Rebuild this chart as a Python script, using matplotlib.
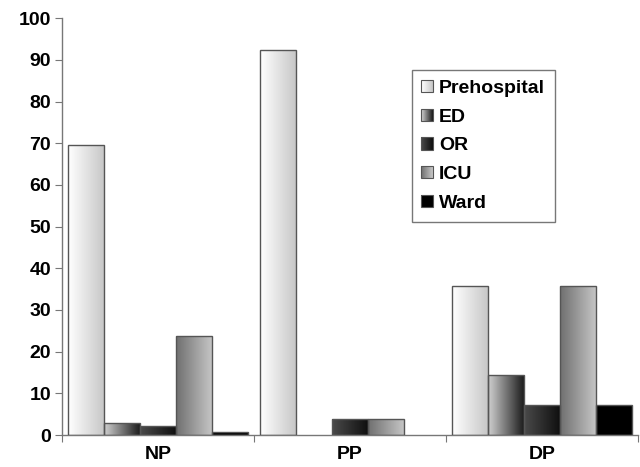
import numpy as np
import matplotlib
matplotlib.use('Agg')
import matplotlib.pyplot as plt
from matplotlib.patches import Rectangle
from matplotlib.legend_handler import HandlerBase
from matplotlib.colors import LinearSegmentedColormap

# ── data ──────────────────────────────────────────────────────────────────────
categories = ['NP', 'PP', 'DP']
series = ['Prehospital', 'ED', 'OR', 'ICU', 'Ward']
prehospital = [69.5, 92.3, 35.7]
ed          = [3.0, 0.0, 14.5]
or_         = [2.1, 3.8, 7.1]
icu         = [23.8, 3.8, 35.7]
ward        = [0.8, 0.0, 7.1]
values = [prehospital, ed, or_, icu, ward]

# left -> right gradient colours per series (Excel-style shading)
grads = [('#ffffff', '#c8c8c8'),
         ('#d0d0d0', '#1e1e1e'),
         ('#4a4a4a', '#101010'),
         ('#707070', '#c4c4c4'),
         ('#000000', '#000000')]

plt.rcParams['font.family'] = ['Liberation Sans', 'DejaVu Sans']
plt.rcParams['font.weight'] = 'bold'
FS = 14

fig = plt.figure(figsize=(6.4, 4.67), dpi=100)
ax = fig.add_axes([0.097, 0.0685, 0.9, 0.8925])

x = np.arange(len(categories))
w = 0.1875
edge = '#555555'

for k, (vals, (c0, c1)) in enumerate(zip(values, grads)):
    cmap = LinearSegmentedColormap.from_list(f'g{k}', [c0, c1])
    grad = np.linspace(0, 1, 64).reshape(1, -1)
    offs = (k - 2) * w
    for xi, v in zip(x, vals):
        if v <= 0:
            continue
        bar = ax.bar(xi + offs, v, width=w, color='none', edgecolor=edge,
                     linewidth=1.0, zorder=3)[0]
        im = ax.imshow(grad, cmap=cmap, aspect='auto', zorder=2,
                       extent=[xi + offs - w / 2, xi + offs + w / 2, 0, v])
        im.set_clip_path(bar)


class GradHandler(HandlerBase):
    def __init__(self, c0, c1):
        super().__init__()
        self.c0, self.c1 = c0, c1

    def create_artists(self, legend, orig_handle, xdescent, ydescent,
                       width, height, fontsize, trans):
        cmap = LinearSegmentedColormap.from_list('lg', [self.c0, self.c1])
        s = height
        x0 = width - s
        arts = []
        n = 12
        for i in range(n):
            r = Rectangle((x0 + i * s / n, -ydescent), s / n, s,
                          facecolor=cmap(i / (n - 1)), edgecolor='none',
                          transform=trans)
            arts.append(r)
        arts.append(Rectangle((x0, -ydescent), s, s, facecolor='none',
                              edgecolor=edge, linewidth=0.8, transform=trans))
        return arts


handles = [Rectangle((0, 0), 1, 1) for _ in series]
hmap = {h: GradHandler(c0, c1) for h, (c0, c1) in zip(handles, grads)}
leg = ax.legend(handles, series, handler_map=hmap, loc='upper left',
                bbox_to_anchor=(0.607, 0.875), fontsize=FS, fancybox=False,
                framealpha=1, edgecolor='#777777', handlelength=0.6,
                handleheight=0.6, handletextpad=0.3, labelspacing=0.6,
                borderpad=0.5, borderaxespad=0)
leg.get_frame().set_linewidth(1.0)

ax.set_xlim(-0.5, 2.5)
ax.set_ylim(0, 100)
ax.set_yticks(range(0, 101, 10))
ax.set_xticks([-0.5, 0.5, 1.5, 2.5])
ax.set_xticklabels([])
ax.set_xticks(x, minor=True)
ax.set_xticklabels(categories, minor=True)
ax.tick_params(axis='x', which='minor', length=0, pad=8, labelsize=FS)
ax.tick_params(axis='x', which='major', length=5, direction='out',
               color='#777777')
ax.tick_params(axis='y', length=5, direction='out', color='#777777',
               labelsize=FS, pad=3)

for s in ['top', 'right']:
    ax.spines[s].set_visible(False)
for s in ['left', 'bottom']:
    ax.spines[s].set_color('#777777')
    ax.spines[s].set_linewidth(1.0)

plt.savefig('out.png', dpi=100)
